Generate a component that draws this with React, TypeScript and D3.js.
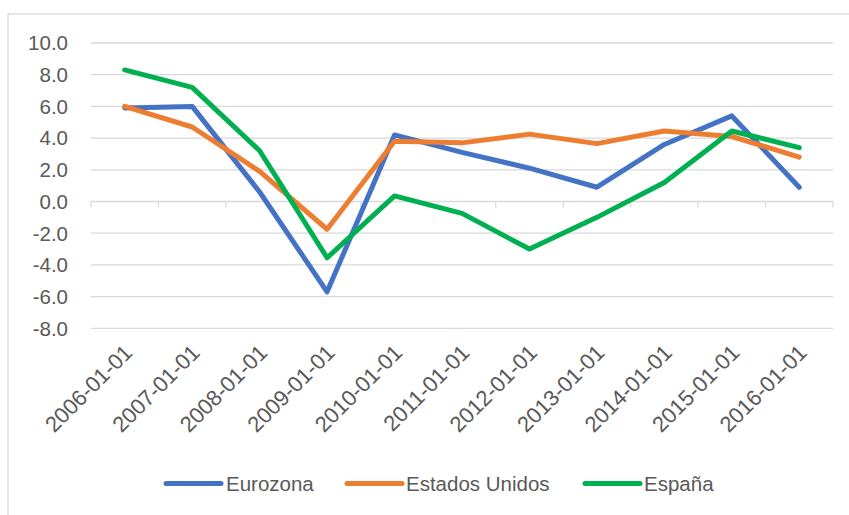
import React from "react";
import * as d3 from "d3";

const categories = [
  "2006-01-01", "2007-01-01", "2008-01-01", "2009-01-01", "2010-01-01", "2011-01-01",
  "2012-01-01", "2013-01-01", "2014-01-01", "2015-01-01", "2016-01-01",
];
const eurozona = [5.9, 6.0, 0.6, -5.7, 4.2, 3.1, 2.1, 0.9, 3.6, 5.4, 0.9];
const estadosUnidos = [6.0, 4.7, 1.9, -1.75, 3.8, 3.7, 4.25, 3.65, 4.45, 4.1, 2.8];
const espana = [8.3, 7.2, 3.2, -3.55, 0.35, -0.75, -3.0, -1.0, 1.2, 4.45, 3.4];
const yTicks = [10, 8, 6, 4, 2, 0, -2, -4, -6, -8];

const seriesNames = ["Eurozona", "Estados Unidos", "España"];
const seriesColors = ["#4472C4", "#ED7D31", "#00B050"];
const seriesData = [eurozona, estadosUnidos, espana];

const W = 849;
const H = 515;
const FONT = "'Liberation Sans', Arial, sans-serif";
const TEXT = "#595959";
const GRID = "#D9D9D9";

export default function App() {
  const x = d3.scaleBand<string>().domain(categories).range([91, 833]).paddingInner(0).paddingOuter(0);
  const y = d3.scaleLinear().domain([-8, 10]).range([328.3, 43]);
  const cx = (c: string) => (x(c) as number) + x.bandwidth() / 2;
  const line = d3
    .line<number>()
    .x((_, i) => cx(categories[i]))
    .y((d) => y(d));

  const boundaries = categories.map((c) => x(c) as number).concat([833]);

  const legendItems = [
    { lx1: 166, lx2: 221, tx: 226 },
    { lx1: 347, lx2: 402, tx: 406 },
    { lx1: 585, lx2: 640, tx: 644 },
  ];

  return (
    <div style={{ position: "fixed", left: 0, top: 0 }}>
      <svg width={W} height={H} style={{ display: "block", background: "#fff" }}>
        <rect x={8} y={14} width={W + 20} height={H + 20} fill="#fff" stroke={GRID} strokeWidth={1.3} />
        {yTicks.map((t) => (
          <g key={t}>
            <line x1={91} x2={833} y1={y(t)} y2={y(t)} stroke={GRID} strokeWidth={1.3} />
            <text
              x={68}
              y={y(t)}
              dy="0.36em"
              textAnchor="end"
              fontFamily={FONT}
              fontSize={20.5}
              fill={TEXT}
            >
              {t.toFixed(1)}
            </text>
          </g>
        ))}
        {boundaries.map((b, i) => (
          <line key={i} x1={b} x2={b} y1={y(0)} y2={y(0) + 6} stroke={GRID} strokeWidth={1.3} />
        ))}
        {categories.map((c) => (
          <text
            key={c}
            transform={`translate(${cx(c) + 9},${354}) rotate(-45)`}
            textAnchor="end"
            fontFamily={FONT}
            fontSize={22}
            fill={TEXT}
          >
            {c}
          </text>
        ))}
        {seriesData.map((s, i) => (
          <path
            key={i}
            d={line(s) as string}
            fill="none"
            stroke={seriesColors[i]}
            strokeWidth={5}
            strokeLinejoin="round"
            strokeLinecap="round"
          />
        ))}
        {legendItems.map((l, i) => (
          <g key={i}>
            <line
              x1={l.lx1}
              x2={l.lx2}
              y1={483.5}
              y2={483.5}
              stroke={seriesColors[i]}
              strokeWidth={5}
              strokeLinecap="round"
            />
            <text x={l.tx} y={483.5} dy="0.36em" fontFamily={FONT} fontSize={20.5} fill={TEXT}>
              {seriesNames[i]}
            </text>
          </g>
        ))}
      </svg>
    </div>
  );
}
